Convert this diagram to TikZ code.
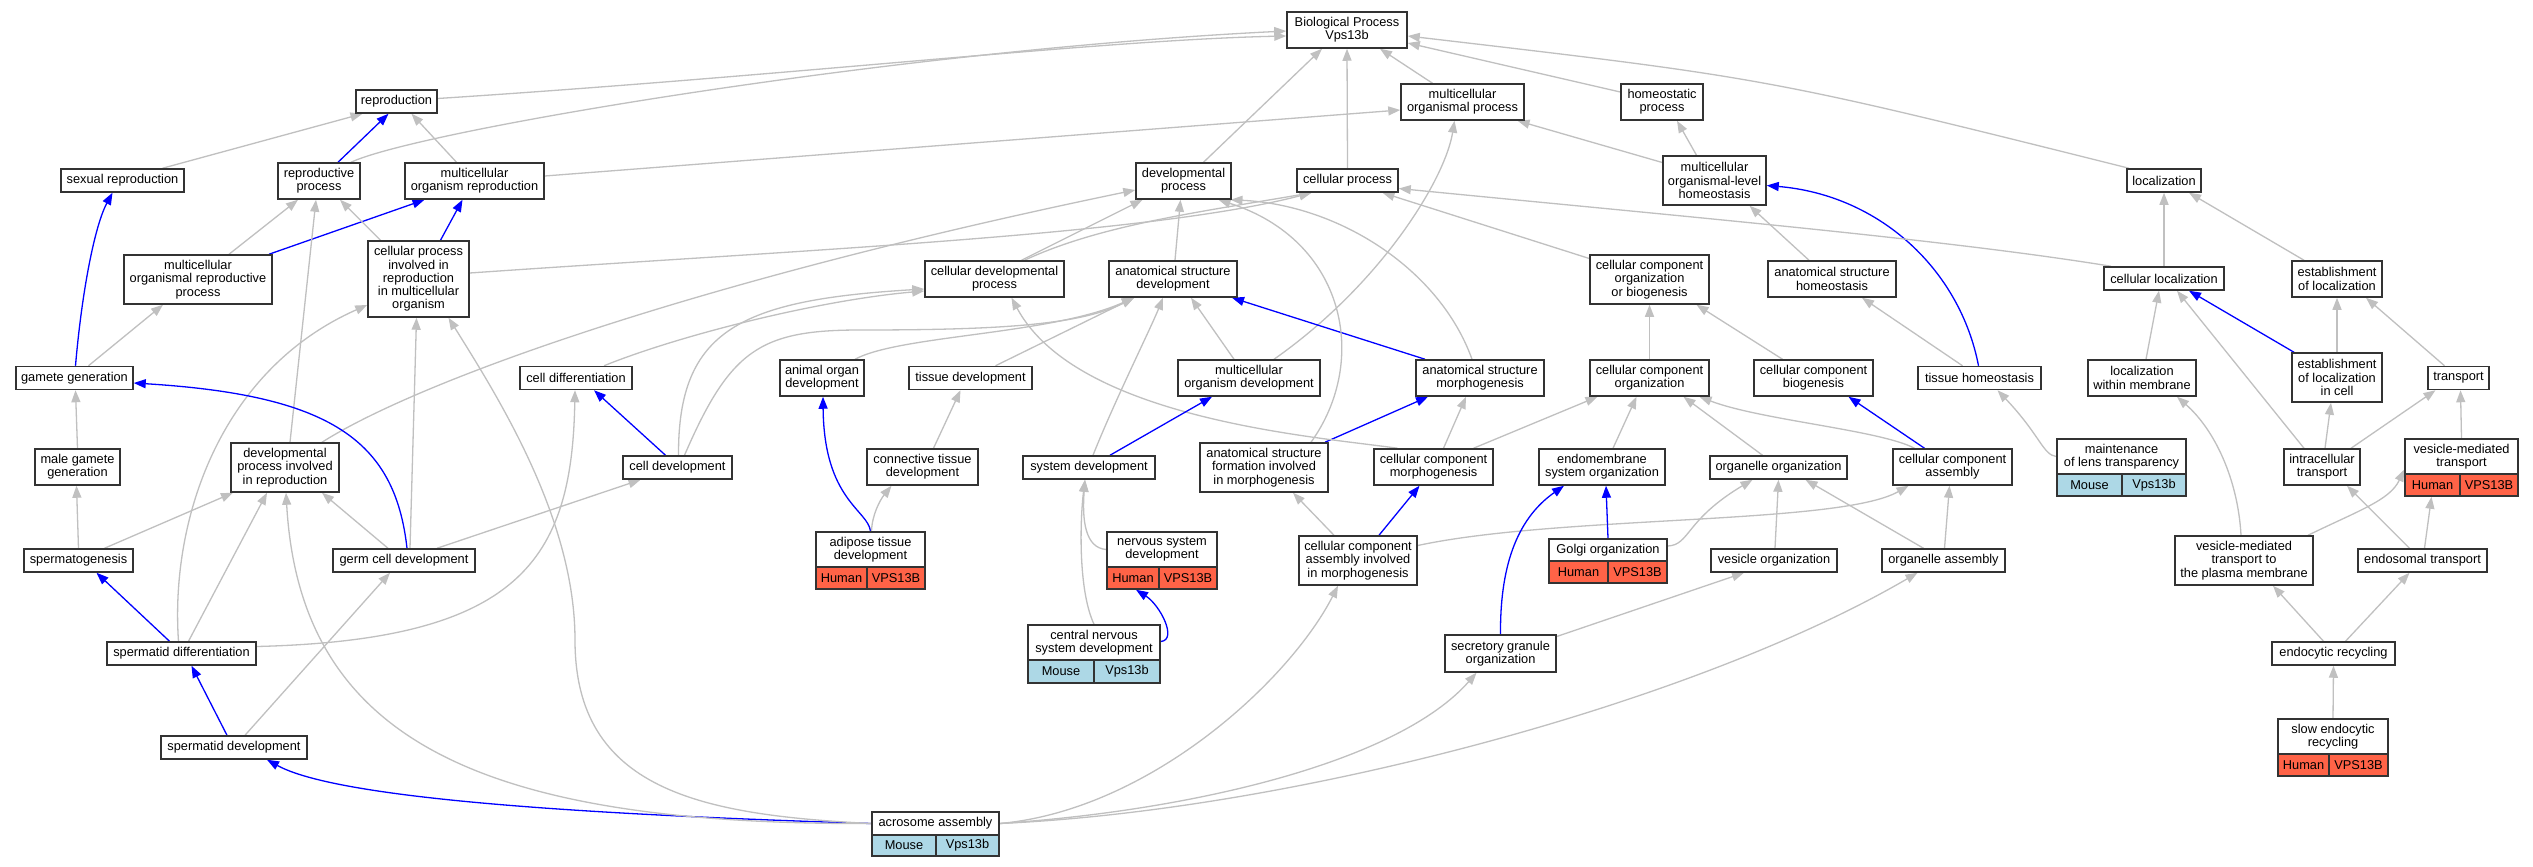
\documentclass[tikz,border=0pt]{standalone}
\usepackage{fontspec}
\setmainfont{Liberation Sans}
\usetikzlibrary{arrows.meta}
\definecolor{tomatoc}{HTML}{FF6347}
\definecolor{lblue}{HTML}{ADD8E6}
\definecolor{edgegray}{HTML}{C0C0C0}
\pgfdeclarelayer{background}
\pgfsetlayers{background,main}
\begin{document}
\begin{tikzpicture}[x=1pt,y=-1pt,
  box/.style={draw=black!80, line width=1.5pt, fill=white, inner sep=0pt, align=center, font=\fontsize{12.8}{13.3}\selectfont},
  b/.style 2 args={box, minimum width=#1pt, minimum height=#2pt},
  hum/.style 2 args={box, fill=tomatoc, minimum width=#1pt, minimum height=#2pt},
  mou/.style 2 args={box, fill=lblue, minimum width=#1pt, minimum height=#2pt},
  ge/.style={draw=edgegray, line width=1.3pt, -{Triangle[length=12pt,width=9pt]}},
  be/.style={draw=blue, line width=1.3pt, -{Triangle[length=12pt,width=9pt]}}]
\useasboundingbox (0,0) rectangle (2533,867);
% ---------------- nodes ----------------
\node[b={120}{36}] (bp) at (1347,30) {Biological Process\\Vps13b};
\node[b={81}{23}] (repro) at (396.5,101.5) {reproduction};
\node[b={123}{36}] (mop) at (1462.5,102) {multicellular\\organismal process};
\node[b={82}{36}] (homeo) at (1662,102) {homeostatic\\process};
\node[b={123}{23}] (sexrep) at (122.5,180.5) {sexual reproduction};
\node[b={82}{36}] (rp) at (319,181) {reproductive\\process};
\node[b={139}{36}] (mor) at (474.5,181) {multicellular\\organism reproduction};
\node[b={95}{36}] (dp) at (1183.5,181) {developmental\\process};
\node[b={101}{23}] (cp) at (1347.5,180.5) {cellular process};
\node[b={103}{49}] (mohl) at (1714.5,180.5) {multicellular\\organismal-level\\homeostasis};
\node[b={74}{23}] (loc) at (2164,180.5) {localization};
\node[b={148}{49}] (morp) at (198,279.5) {multicellular\\organismal reproductive\\process};
\node[b={101}{76}] (cpir) at (418.5,279) {cellular process\\involved in\\reproduction\\in multicellular\\organism};
\node[b={139}{36}] (cdp) at (994.5,279) {cellular developmental\\process};
\node[b={128}{36}] (asd) at (1173,279) {anatomical structure\\development};
\node[b={119}{49}] (ccob) at (1649.5,279.5) {cellular component\\organization\\or biogenesis};
\node[b={128}{36}] (ash) at (1832,279) {anatomical structure\\homeostasis};
\node[b={120}{23}] (cloc) at (2164,278.5) {cellular localization};
\node[b={90}{36}] (el) at (2337,279) {establishment\\of localization};
\node[b={117}{23}] (gg) at (74.5,378) {gamete generation};
\node[b={112}{23}] (cd) at (576,378) {cell differentiation};
\node[b={84}{36}] (aod) at (822,378) {animal organ\\development};
\node[b={123}{23}] (td) at (970.5,378) {tissue development};
\node[b={142}{36}] (mod) at (1249,378) {multicellular\\organism development};
\node[b={128}{36}] (asm) at (1480,378) {anatomical structure\\morphogenesis};
\node[b={119}{36}] (cco) at (1649.5,378) {cellular component\\organization};
\node[b={119}{36}] (ccb) at (1813.5,378) {cellular component\\biogenesis};
\node[b={123}{23}] (th) at (1979.5,378) {tissue homeostasis};
\node[b={108}{36}] (lwm) at (2142,378) {localization\\within membrane};
\node[b={90}{49}] (elic) at (2337,377.5) {establishment\\of localization\\in cell};
\node[b={61}{23}] (tr) at (2458.5,378) {transport};
\node[b={85}{36}] (mgg) at (77.5,467) {male gamete\\generation};
\node[b={108}{49}] (dpir) at (285,467.5) {developmental\\process involved\\in reproduction};
\node[b={109}{23}] (cdev) at (677.5,467.5) {cell development};
\node[b={111}{36}] (ctd) at (922.5,467) {connective tissue\\development};
\node[b={132}{23}] (sd) at (1089,467.5) {system development};
\node[b={128}{49}] (asfm) at (1264,467.5) {anatomical structure\\formation involved\\in morphogenesis};
\node[b={119}{36}] (ccm) at (1433.5,467) {cellular component\\morphogenesis};
\node[b={126}{36}] (eso) at (1602,467) {endomembrane\\system organization};
\node[b={137}{23}] (oo) at (1778.5,467.5) {organelle organization};
\node[b={119}{36}] (cca) at (1952.5,467) {cellular component\\assembly};
\node[b={129}{35}] (mlt) at (2121.5,456.5) {maintenance\\of lens transparency};
\node[mou={65}{22}] (mltm) at (2089.5,485) {Mouse};
\node[mou={64}{22}] (mltg) at (2154,485) {Vps13b};
\node[b={76}{36}] (it) at (2322,467) {intracellular\\transport};
\node[b={113}{35}] (vmt) at (2461.5,456.5) {vesicle-mediated\\transport};
\node[hum={55}{22}] (vmth) at (2432.5,485) {Human};
\node[hum={58}{22}] (vmtg) at (2489,485) {VPS13B};
\node[b={109}{23}] (spg) at (78.5,560.5) {spermatogenesis};
\node[b={142}{23}] (gcd) at (404,560.5) {germ cell development};
\node[b={109}{35}] (atd) at (870.5,549.5) {adipose tissue\\development};
\node[hum={51}{22}] (atdh) at (841.5,578) {Human};
\node[hum={58}{22}] (atdg) at (896,578) {VPS13B};
\node[b={110}{35}] (nsd) at (1162,549.5) {nervous system\\development};
\node[hum={52}{22}] (nsdh) at (1133,578) {Human};
\node[hum={58}{22}] (nsdg) at (1188,578) {VPS13B};
\node[b={118}{49}] (ccaim) at (1358,560.5) {cellular component\\assembly involved\\in morphogenesis};
\node[b={118}{22}] (golgi) at (1608,550) {Golgi organization};
\node[hum={59}{22}] (golgih) at (1578.5,572) {Human};
\node[hum={59}{22}] (golgig) at (1637.5,572) {VPS13B};
\node[b={126}{23}] (vo) at (1774,560.5) {vesicle organization};
\node[b={123}{23}] (oa) at (1943.5,560.5) {organelle assembly};
\node[b={138}{49}] (vmtpm) at (2244,560.5) {vesicle-mediated\\transport to\\the plasma membrane};
\node[b={129}{23}] (et) at (2422.5,560.5) {endosomal transport};
\node[b={149}{23}] (spd) at (181.5,653.5) {spermatid differentiation};
\node[b={132}{35}] (cnsd) at (1094,642.5) {central nervous\\system development};
\node[mou={66}{23}] (cnsdm) at (1061,671.5) {Mouse};
\node[mou={66}{23}] (cnsdg) at (1127,671.5) {Vps13b};
\node[b={111}{37}] (sgo) at (1500.5,653.5) {secretory granule\\organization};
\node[b={123}{23}] (er) at (2333.5,653.5) {endocytic recycling};
\node[b={146}{23}] (spdev) at (234,747.5) {spermatid development};
\node[b={110}{35}] (ser) at (2333,736.5) {slow endocytic\\recycling};
\node[hum={51}{22}] (serh) at (2303.5,765) {Human};
\node[hum={59}{22}] (serg) at (2358.5,765) {VPS13B};
\node[b={127}{23}] (acro) at (935.5,823.5) {acrosome assembly};
\node[mou={64}{21}] (acrom) at (904,845.5) {Mouse};
\node[mou={63}{21}] (acrog) at (967.5,845.5) {Vps13b};
% ---------------- edges ----------------
\begin{pgfonlayer}{background}
\fill[white] (0,0) rectangle (2533,867);
% top level
\draw[ge] ([yshift=3pt]repro.east) .. controls (800,75) and (1100,40) .. ([yshift=-6pt]bp.west);
\draw[ge] ([xshift=32pt]rp.north) .. controls (420,130) and (900,50) .. ([yshift=-1pt]bp.west);
\draw[ge] ([xshift=20pt]dp.north) -- ([xshift=-25pt]bp.south);
\draw[ge] (cp.north) -- (bp.south);
\draw[ge] ([xshift=-30pt]mop.north) -- ([xshift=33pt]bp.south);
\draw[ge] ([yshift=10pt]homeo.west) -- ([yshift=-13pt]bp.east);
\draw[ge] ([xshift=-35pt]loc.north) .. controls (1768,78) .. ([yshift=-6pt]bp.east);
% reproduction
\draw[ge] ([xshift=40pt]sexrep.north) -- ([xshift=-34pt]repro.south);
\draw[be] ([xshift=19pt]rp.north) -- ([xshift=-8pt]repro.south);
\draw[ge] ([xshift=-18pt]mor.north) -- ([xshift=15pt]repro.south);
\draw[ge] ([yshift=5pt]mor.east) -- ([yshift=-8pt]mop.west);
\draw[be] ([xshift=71pt]morp.north) -- ([xshift=-50pt]mor.south);
\draw[ge] ([xshift=31pt]morp.north) -- ([xshift=-21pt]rp.south);
\draw[ge] ([xshift=-38pt]cpir.north) -- ([xshift=21pt]rp.south);
\draw[be] ([xshift=22pt]cpir.north) -- ([xshift=-12pt]mor.south);
\draw[ge] ([yshift=6pt]cpir.east) .. controls (800,250) and (1150,235) .. ([xshift=-36pt]cp.south);
\draw[ge] ([xshift=30pt]cdp.north) .. controls (1100,225) and (1200,212) .. ([xshift=-36pt]cp.south);
\draw[ge] ([xshift=27pt]cdp.north) -- ([xshift=-41pt]dp.south);
\draw[be] ([xshift=1pt]gg.north) .. controls (82,290) and (95,225) .. ([xshift=-10pt]sexrep.south);
\draw[ge] ([xshift=14pt]gg.north) -- ([xshift=-35pt]morp.south);
% development
\draw[ge] ([xshift=28pt]cd.north) .. controls (680,335) and (820,300) .. ([yshift=-12pt]cdp.west);
\draw[ge] ([xshift=1pt]cdev.north) .. controls (678,330) and (740,300) .. ([yshift=-10pt]cdp.west);
\draw[ge] ([xshift=7pt]cdev.north) .. controls (730,350) and (760,330) .. (860,330) .. controls (1000,330) and (1080,325) .. ([xshift=-39pt]asd.south);
\draw[be] ([xshift=-12pt]cdev.north) -- ([xshift=18pt]cd.south);
\draw[ge] ([xshift=33pt]aod.north) .. controls (900,335) and (1050,335) .. ([xshift=-39pt]asd.south);
\draw[ge] ([xshift=25pt]td.north) -- ([xshift=-39pt]asd.south);
\draw[ge] ([xshift=2pt]asd.north) -- ([xshift=-3pt]dp.south);
\draw[ge] ([xshift=4pt]sd.north) .. controls (1115,400) and (1150,330) .. ([xshift=-10pt]asd.south);
\draw[ge] ([xshift=-15pt]mod.north) -- ([xshift=18pt]asd.south);
\draw[ge] ([xshift=25pt]mod.north) .. controls (1380,285) and (1445,180) .. ([xshift=-8pt]mop.south);
\draw[be] ([xshift=-55pt]asm.north) -- ([xshift=59pt]asd.south);
\draw[ge] ([xshift=-8pt]asm.north) .. controls (1440,270) and (1340,205) .. ([xshift=47pt]dp.south);
\draw[ge] ([xshift=47pt]asfm.north) .. controls (1370,360) and (1345,240) .. ([xshift=35pt]dp.south);
\draw[be] ([xshift=61pt]asfm.north) -- ([xshift=-52pt]asm.south);
\draw[ge] ([xshift=-36pt]ccm.north) .. controls (1320,437) and (1077,420) .. ([xshift=17pt]cdp.south);
\draw[ge] ([xshift=10pt]ccm.north) -- ([xshift=-14pt]asm.south);
\draw[ge] ([xshift=40pt]ccm.north) -- ([xshift=-52pt]cco.south);
\draw[be] ([xshift=21pt]ccaim.north) -- ([xshift=-14pt]ccm.south);
\draw[ge] ([xshift=-24pt]ccaim.north) -- ([xshift=29pt]asfm.south);
\draw[ge] ([yshift=15pt]ccaim.east) .. controls (1560,515) and (1840,525) .. ([xshift=-44pt]cca.south);
% acrosome assembly
\draw[ge] (acro.east) .. controls (1150,810) and (1290,680) .. ([xshift=-20pt]ccaim.south);
\draw[ge] (acro.east) .. controls (1200,810) and (1400,760) .. ([xshift=-24pt]sgo.south);
\draw[ge] (acro.east) .. controls (1300,810) and (1700,700) .. ([xshift=-26pt]oa.south);
\draw[be] (acro.west) .. controls (600,815) and (340,800) .. ([xshift=33pt]spdev.south);
\draw[ge] (acro.west) .. controls (480,825) and (300,740) .. ([xshift=1pt]dpir.south);
\draw[ge] (acro.west) .. controls (700,815) and (575,790) .. (575,640) .. controls (575,520) and (500,400) .. ([xshift=30pt]cpir.south);
% spermatogenesis area
\draw[ge] ([xshift=6pt]gcd.north) -- ([xshift=-2pt]cpir.south);
\draw[ge] ([xshift=-3pt]spd.north) .. controls (170,520) and (220,370) .. ([yshift=-26pt]cpir.west);
\draw[be] ([xshift=-12pt]spd.north) -- ([xshift=18pt]spg.south);
\draw[ge] ([xshift=7pt]spd.north) -- ([xshift=-18pt]dpir.south);
\draw[ge] ([yshift=7pt]spd.east) .. controls (520,640) and (572,560) .. ([xshift=-1pt]cd.south);
\draw[be] ([xshift=-7pt]spdev.north) -- ([xshift=10pt]spd.south);
\draw[ge] ([xshift=11pt]spdev.north) -- ([xshift=-14pt]gcd.south);
\draw[ge] (spg.north) -- ([xshift=-1pt]mgg.south);
\draw[ge] ([xshift=26pt]spg.north) -- ([xshift=-52pt]dpir.south);
\draw[ge] (mgg.north) -- ([xshift=1pt]gg.south);
\draw[ge] ([xshift=5pt]dpir.north) -- ([xshift=-3pt]rp.south);
\draw[ge] ([xshift=37pt]dpir.north) .. controls (420,380) and (700,280) .. ([yshift=-9pt]dp.west);
\draw[ge] ([xshift=-16pt]gcd.north) -- ([xshift=37pt]dpir.south);
\draw[be] ([xshift=3pt]gcd.north) .. controls (395,440) and (330,395) .. ([yshift=-5pt]gg.east);
\draw[ge] ([xshift=33pt]gcd.north) -- ([xshift=-37pt]cdev.south);
% tissues, systems
\draw[be] (atd.north) .. controls (868,510) and (824,500) .. ([xshift=1pt]aod.south);
\draw[ge] ([xshift=1pt]atd.north) .. controls (872,515) and (880,500) .. ([xshift=-31pt]ctd.south);
\draw[ge] ([xshift=11pt]ctd.north) -- ([xshift=-10pt]td.south);
\draw[ge] (nsd.west) .. controls (1085,548) and (1082,520) .. ([xshift=-4pt]sd.south);
\draw[ge] (cnsd.north) .. controls (1078,590) and (1080,520) .. ([xshift=-4pt]sd.south);
\draw[be] ([yshift=1pt]cnsd.east) .. controls (1178,640) and (1160,605) .. ([xshift=3pt]nsdh.south);
\draw[be] ([xshift=21pt]sd.north) -- ([xshift=-37pt]mod.south);
% organization
\draw[be] (golgi.north) -- ([xshift=4pt]eso.south);
\draw[ge] ([yshift=4pt]golgi.east) .. controls (1690,545) and (1685,520) .. ([xshift=-26pt]oo.south);
\draw[ge] ([xshift=1pt]vo.north) -- (oo.south);
\draw[be] (sgo.north) .. controls (1500,570) and (1515,520) .. ([xshift=-38pt]eso.south);
\draw[ge] ([yshift=17pt]sgo.east) -- ([xshift=-30pt]vo.south);
\draw[ge] ([xshift=11pt]eso.north) -- ([xshift=-13pt]cco.south);
\draw[ge] ([xshift=-16pt]oo.north) -- ([xshift=34pt]cco.south);
\draw[ge] ([xshift=-20pt]oa.north) -- ([xshift=27pt]oo.south);
\draw[ge] ([xshift=1pt]oa.north) -- ([xshift=-3pt]cca.south);
\draw[ge] ([xshift=-38pt]cca.north) .. controls (1880,430) and (1760,420) .. ([xshift=50pt]cco.south);
\draw[be] ([xshift=-28pt]cca.north) -- ([xshift=35pt]ccb.south);
\draw[ge] (cco.north) -- (ccob.south);
\draw[ge] ([xshift=-31pt]ccb.north) -- ([xshift=47pt]ccob.south);
\draw[ge] ([yshift=21pt]ccob.west) -- ([xshift=35pt]cp.south);
% homeostasis
\draw[ge] ([yshift=18pt]mohl.west) -- ([xshift=55pt]mop.south);
\draw[ge] ([xshift=-18pt]mohl.north) -- ([xshift=15pt]homeo.south);
\draw[ge] ([xshift=-23pt]ash.north) -- ([xshift=35pt]mohl.south);
\draw[be] ([xshift=-1pt]th.north) .. controls (1960,270) and (1880,195) .. ([yshift=-5pt]mohl.east);
\draw[ge] ([xshift=-17pt]th.north) -- ([xshift=30pt]ash.south);
\draw[ge] (mlt.west) .. controls (2043,455) and (2040,435) .. ([xshift=18pt]th.south);
% localization
\draw[ge] ([xshift=-53pt]cloc.north) .. controls (1950,240) and (1700,218) .. ([yshift=-8pt]cp.east);
\draw[ge] (cloc.north) -- (loc.south);
\draw[ge] ([xshift=-33pt]el.north) -- ([xshift=25pt]loc.south);
\draw[ge] (elic.north) -- (el.south);
\draw[be] ([xshift=-43pt]elic.north) -- ([xshift=25pt]cloc.south);
\draw[ge] ([xshift=-14pt]tr.north) -- ([xshift=29pt]el.south);
\draw[ge] ([xshift=4pt]lwm.north) -- ([xshift=-5pt]cloc.south);
\draw[ge] ([xshift=-18pt]it.north) -- ([xshift=13pt]cloc.south);
\draw[ge] ([xshift=3pt]it.north) -- ([xshift=-6pt]elic.south);
\draw[ge] ([xshift=29pt]it.north) -- ([xshift=-23pt]tr.south);
\draw[ge] (vmt.north) -- ([xshift=2pt]tr.south);
\draw[ge] ([xshift=-3pt]vmtpm.north) .. controls (2238,480) and (2215,430) .. ([xshift=35pt]lwm.south);
\draw[ge] ([xshift=64pt]vmtpm.north) .. controls (2360,510) and (2390,500) .. ([yshift=-13pt]vmt.west);
\draw[ge] ([xshift=-13pt]et.north) -- ([xshift=25pt]it.south);
\draw[ge] ([xshift=2pt]et.north) -- ([xshift=-1pt]vmth.south);
\draw[ge] ([xshift=-10pt]er.north) -- ([xshift=29pt]vmtpm.south);
\draw[ge] ([xshift=12pt]er.north) -- ([xshift=-13pt]et.south);
\draw[ge] (ser.north) -- (er.south);
\end{pgfonlayer}
\end{tikzpicture}
\end{document}
